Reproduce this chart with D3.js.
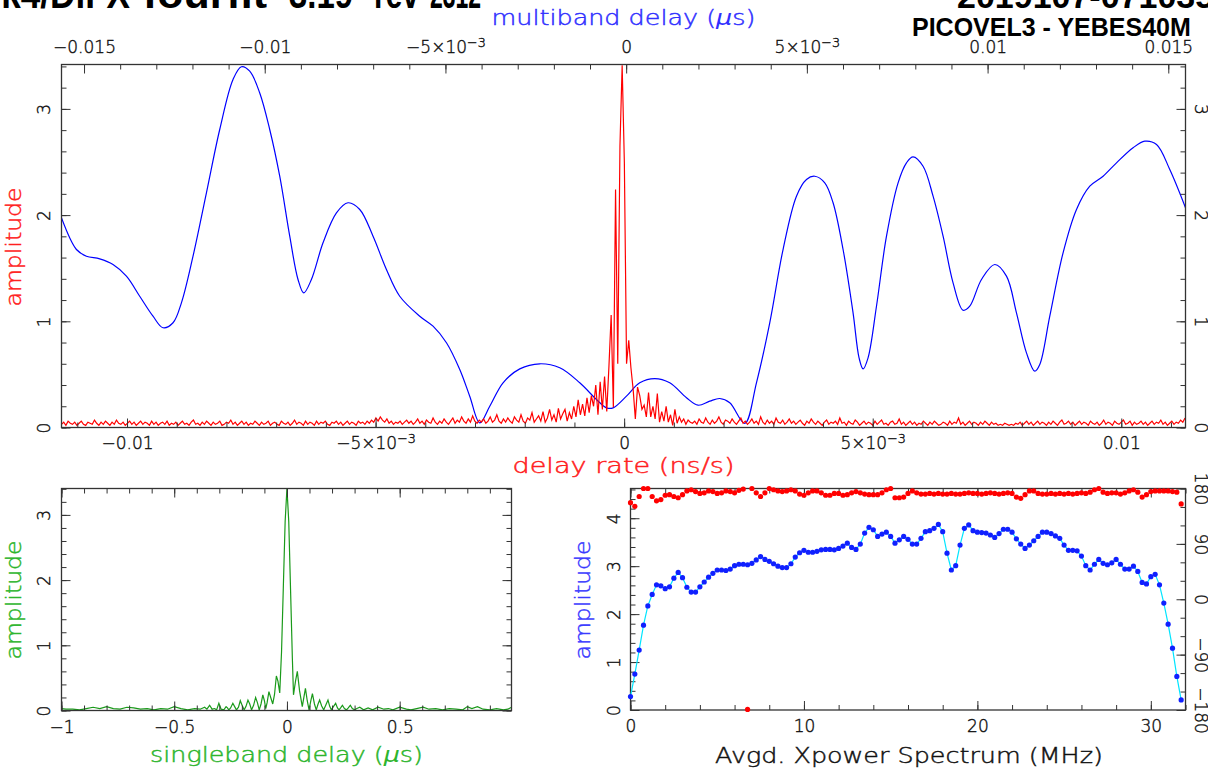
<!DOCTYPE html>
<html><head><meta charset="utf-8">
<script src="https://cdn.jsdelivr.net/npm/d3@7"></script>
<style>body{margin:0;background:#fff;overflow:hidden}svg{display:block}</style>
</head><body><svg id="c" width="1208" height="773"></svg>
<script>
// ---------- DATA ----------
const titleLeftWords = ["Mk4/DiFX", "fourfit", "3.19", "rev", "2312"];
const titleRight1 = "2019107-071035M";
const titleRight2 = "PICOVEL3 - YEBES40M";

// multiband delay (us) vs amplitude (blue)
const mbdDelay = [-0.015625,-0.01521,-0.014934,-0.014566,-0.014198,-0.013827,-0.013459,-0.013091,-0.012814,-0.012537,-0.012305,-0.011984,-0.011613,-0.011245,-0.010877,-0.010645,-0.010415,-0.010138,-0.009862,-0.009585,-0.009308,-0.009079,-0.008921,-0.008708,-0.008387,-0.008016,-0.007695,-0.007371,-0.007003,-0.006633,-0.006265,-0.005711,-0.005343,-0.004972,-0.004604,-0.004328,-0.004051,-0.003774,-0.003406,-0.002944,-0.002391,-0.001837,-0.001284,-0.000822,-0.000545,-0.000362,0.000008,0.000376,0.000791,0.001206,0.001669,0.00199,0.002313,0.00259,0.002867,0.003282,0.003605,0.003973,0.004341,0.004712,0.004989,0.005219,0.005495,0.005725,0.006002,0.006278,0.006444,0.006555,0.006693,0.006926,0.007203,0.007524,0.007756,0.007938,0.008215,0.008492,0.008769,0.009045,0.009322,0.009507,0.009831,0.010199,0.010523,0.010799,0.011076,0.011306,0.011444,0.011721,0.012089,0.01246,0.012828,0.013196,0.013567,0.014026,0.01435,0.014674,0.015041,0.015476];
const mbdAmp = [1.975,1.676,1.613,1.588,1.535,1.425,1.236,1.048,0.939,0.986,1.174,1.613,2.21,2.806,3.277,3.397,3.355,3.15,2.806,2.366,1.801,1.394,1.268,1.394,1.739,2.021,2.116,2.053,1.801,1.488,1.236,1.048,0.954,0.798,0.546,0.295,0.044,0.2,0.421,0.552,0.6,0.562,0.421,0.264,0.185,0.185,0.295,0.421,0.461,0.421,0.28,0.21,0.248,0.273,0.233,0.038,0.421,0.986,1.676,2.178,2.335,2.366,2.304,2.116,1.676,1.08,0.656,0.552,0.656,1.142,1.801,2.304,2.492,2.549,2.46,2.178,1.801,1.362,1.104,1.142,1.394,1.535,1.425,1.08,0.703,0.53,0.593,1.048,1.645,2.053,2.272,2.366,2.492,2.634,2.696,2.665,2.429,2.069];

// delay rate (ns/s) grid and amplitude (red)
const drStart = -0.011318, drStep = 4.4227e-5;
const drAmp = [
0.03,0.05,0.02,0.06,0.04,0.03,0.05,0.02,0.04,0.06,0.03,0.02,0.05,0.04,0.03,0.07,
0.04,0.02,0.05,0.03,0.06,0.04,0.02,0.05,0.03,0.07,0.04,0.03,0.05,0.02,0.04,0.06,
0.03,0.05,0.02,0.04,0.06,0.03,0.05,0.04,0.02,0.06,0.03,0.05,0.02,0.04,0.05,0.03,
0.06,0.02,0.04,0.03,0.05,0.02,0.04,0.06,0.03,0.04,0.02,0.05,0.07,0.03,0.04,0.02,
0.05,0.03,0.06,0.04,0.02,0.05,0.03,0.04,0.06,0.02,0.03,0.05,0.04,0.07,0.03,0.05,
0.02,0.04,0.06,0.03,0.05,0.02,0.04,0.03,0.06,0.04,0.02,0.05,0.03,0.04,0.06,0.02,
0.04,0.05,0.03,0.02,0.06,0.04,0.03,0.05,0.02,0.04,0.07,0.03,0.05,0.04,0.02,0.06,
0.03,0.05,0.04,0.02,0.06,0.03,0.05,0.04,0.06,0.03,0.02,0.05,0.04,0.06,0.03,0.05,
0.02,0.04,0.06,0.03,0.05,0.04,0.02,0.06,0.04,0.05,0.03,0.06,0.04,0.07,0.05,0.09,
0.06,0.10,0.07,0.05,0.08,0.04,0.06,0.03,0.05,0.04,0.06,0.03,0.05,0.07,0.04,0.06,
0.03,0.05,0.08,0.04,0.06,0.03,0.07,0.05,0.04,0.09,0.05,0.03,0.06,0.04,0.08,0.05,
0.03,0.06,0.09,0.04,0.07,0.05,0.10,0.06,0.04,0.08,0.05,0.11,0.06,0.04,0.07,0.05,
0.08,0.04,0.06,0.10,0.05,0.07,0.12,0.06,0.04,0.08,0.05,0.09,0.06,0.04,0.10,0.07,
0.05,0.12,0.06,0.04,0.09,0.07,0.14,0.05,0.08,0.11,0.06,0.15,0.05,0.09,0.17,0.07,
0.12,0.05,0.18,0.08,0.13,0.17,0.06,0.14,0.08,0.20,0.10,0.26,0.12,0.22,0.11,0.28,
0.14,0.30,0.20,0.40,0.12,0.43,0.17,0.48,0.15,0.58,1.06,0.19,2.24,0.60,2.65,3.41,
2.50,0.60,0.82,0.56,0.36,0.08,0.38,0.30,0.17,0.21,0.10,0.33,0.10,0.20,0.08,0.32,
0.05,0.15,0.06,0.20,0.05,0.12,0.02,0.17,0.04,0.10,0.05,0.08,0.03,0.07,0.05,0.04,
0.06,0.03,0.08,0.05,0.04,0.09,0.05,0.03,0.07,0.04,0.06,0.10,0.05,0.03,0.07,0.06,
0.04,0.08,0.05,0.03,0.06,0.09,0.04,0.06,0.03,0.05,0.08,0.04,0.06,0.03,0.10,0.05,
0.03,0.07,0.04,0.06,0.03,0.09,0.05,0.04,0.07,0.03,0.05,0.08,0.04,0.06,0.03,0.05,
0.07,0.04,0.02,0.06,0.04,0.08,0.05,0.03,0.06,0.04,0.02,0.05,0.07,0.03,0.05,0.04,
0.06,0.03,0.09,0.04,0.05,0.02,0.06,0.04,0.03,0.07,0.05,0.02,0.04,0.06,0.03,0.05,
0.04,0.02,0.06,0.03,0.05,0.07,0.03,0.04,0.02,0.05,0.06,0.03,0.04,0.08,0.03,0.05,
0.02,0.04,0.06,0.03,0.05,0.02,0.04,0.03,0.06,0.04,0.02,0.05,0.03,0.06,0.04,0.02,
0.03,0.05,0.04,0.02,0.06,0.03,0.05,0.04,0.09,0.03,0.05,0.02,0.04,0.06,0.03,0.05,
0.04,0.02,0.05,0.03,0.06,0.04,0.02,0.05,0.03,0.04,0.02,0.03,0.02,0.04,0.03,0.02,
0.03,0.02,0.04,0.03,0.05,0.02,0.04,0.06,0.03,0.05,0.02,0.04,0.06,0.03,0.05,0.04,
0.02,0.05,0.03,0.06,0.04,0.02,0.05,0.07,0.03,0.04,0.06,0.03,0.05,0.02,0.04,0.06,
0.03,0.05,0.04,0.02,0.06,0.04,0.03,0.05,0.02,0.04,0.07,0.03,0.05,0.04,0.02,0.06,
0.04,0.03,0.05,0.07,0.03,0.04,0.06,0.02,0.05,0.03,0.04,0.06,0.03,0.05,0.02,0.04,
0.06,0.03,0.05,0.04,0.07,0.03,0.05,0.02,0.04,0.06,0.03,0.05,0.04,0.07,0.05,0.09];

// singleband delay (us) vs amplitude (green)
const sbdDelay = [-1,-0.98,-0.95,-0.92,-0.89,-0.86,-0.83,-0.8,-0.77,-0.74,-0.71,-0.68,-0.65,-0.62,-0.59,-0.56,-0.53,-0.5,-0.47,-0.44,-0.41,-0.385,-0.365,-0.355,-0.343,-0.332,-0.321,-0.312,-0.302,-0.292,-0.28,-0.27,-0.264,-0.258,-0.25,-0.24,-0.232,-0.224,-0.215,-0.207,-0.199,-0.19,-0.182,-0.173,-0.165,-0.157,-0.148,-0.139,-0.131,-0.123,-0.115,-0.107,-0.1,-0.094,-0.088,-0.08,-0.072,-0.063,-0.055,-0.047,-0.04,-0.032,-0.024,-0.016,-0.008,0,0.008,0.016,0.024,0.029,0.038,0.046,0.056,0.068,0.075,0.082,0.09,0.098,0.106,0.113,0.122,0.13,0.138,0.145,0.154,0.163,0.172,0.182,0.19,0.197,0.206,0.216,0.224,0.231,0.238,0.246,0.255,0.264,0.272,0.281,0.29,0.3,0.31,0.323,0.34,0.36,0.38,0.404,0.43,0.45,0.47,0.5,0.53,0.55,0.575,0.604,0.63,0.66,0.69,0.72,0.75,0.78,0.8,0.82,0.845,0.87,0.9,0.93,0.96,0.98,0.996];
const sbdAmp = [0.03,0.02,0.02,0.01,0.03,0.05,0.03,0.06,0.03,0.02,0.05,0.04,0.02,0.03,0.01,0.03,0.02,0.06,0.03,0.01,0.03,0.02,0.05,0.02,0.08,0.02,0.03,0.01,0.11,0.02,0.01,0.06,0.04,0.01,0.04,0.11,0.06,0.01,0.05,0.15,0.08,0.01,0.06,0.16,0.1,0.01,0.08,0.2,0.12,0.01,0.1,0.24,0.15,0.03,0.12,0.29,0.2,0.1,0.25,0.53,0.45,0.27,0.9,1.9,2.9,3.41,2.9,1.85,0.8,0.24,0.45,0.6,0.3,0.06,0.2,0.34,0.15,0.01,0.15,0.26,0.1,0.01,0.1,0.16,0.07,0.01,0.08,0.16,0.06,0.01,0.06,0.11,0.04,0.01,0.04,0.08,0.03,0.01,0.04,0.08,0.03,0.01,0.03,0.05,0.01,0.04,0.01,0.05,0.02,0.03,0.01,0.05,0.02,0.01,0.03,0.05,0.02,0.03,0.01,0.03,0.02,0.01,0.06,0.03,0.06,0.02,0.01,0.03,0.01,0.02,0.05];

// cross-power spectrum, 0.25 MHz channels
const specStep = 0.25;
const specAmp = [0.28,0.75,1.25,1.77,2.17,2.41,2.61,2.59,2.53,2.57,2.75,2.87,2.76,2.56,2.46,2.46,
2.57,2.67,2.77,2.85,2.92,2.92,2.91,2.94,3.01,3.04,3.04,3.03,3.06,3.13,3.2,3.14,
3.1,3.05,3.0,2.97,2.97,3.05,3.19,3.28,3.33,3.29,3.29,3.31,3.34,3.35,3.35,3.34,
3.37,3.42,3.48,3.39,3.35,3.46,3.69,3.81,3.76,3.62,3.67,3.71,3.62,3.48,3.55,3.62,
3.56,3.46,3.46,3.58,3.72,3.74,3.79,3.87,3.72,3.27,2.92,3.01,3.44,3.79,3.86,3.74,
3.71,3.7,3.69,3.65,3.6,3.68,3.77,3.77,3.71,3.57,3.46,3.37,3.44,3.53,3.62,3.71,
3.71,3.68,3.63,3.58,3.44,3.33,3.33,3.32,3.21,3.01,2.92,3.04,3.14,3.06,3.03,3.07,
3.14,3.04,2.94,2.94,3.0,2.89,2.66,2.63,2.78,2.83,2.61,2.23,1.79,1.29,0.7,0.21];
const specPhase = [157,151,167,180,180,167,160,162,169,170,167,165,170,176,178,175,
172,173,176,175,172,173,176,175,173,177,179,-179,180,173,167,173,
180,178,176,175,176,178,176,171,169,173,176,176,173,169,169,172,
172,169,170,173,175,173,171,170,170,170,173,178,180,165,165,166,
172,176,173,171,171,172,171,172,171,171,172,171,171,172,173,172,
172,171,172,173,172,171,172,173,172,166,164,170,176,176,172,171,
171,172,171,172,171,172,171,172,173,172,174,178,180,174,172,173,
173,171,173,176,178,174,166,170,175,176,176,176,176,175,174,155];

// tick values
const mbdTicks = [-0.015,-0.01,-0.005,0,0.005,0.01,0.015];
const drTicks = [-0.01,-0.005,0,0.005,0.01];
const ampTicks = [0,1,2,3];
const sbdTicks = [-1,-0.5,0,0.5];
const freqTicks = [0,10,20,30];
const specAmpTicks = [0,1,2,3,4];
const phaseTicks = [-180,-90,0,90,180];

// ---------- DRAWING ----------
const svg = d3.select("#c");
const FONT = '"DejaVu Sans", sans-serif';
const WT = 300;
const INK = "#111";
const FR = "#333";
const BLUE = "#0000ff", RED = "#ff0000", GREEN = "#1a9a1a";

const defs = svg.append("defs");
function clip(id, x0, y0, x1, y1) {
  defs.append("clipPath").attr("id", id).append("rect")
    .attr("x", x0).attr("y", y0).attr("width", x1 - x0).attr("height", y1 - y0);
  return "url(#" + id + ")";
}
function range(a, b, s) { const r = []; for (let v = a; v <= b + s * 1e-6; v += s) r.push(+v.toFixed(6)); return r; }

function fmtSci(d) {
  const a = Math.abs(d), neg = d < 0 ? "\u2212" : "";
  if (Math.abs(a - 0.005) < 1e-9) return [neg + "5\u00d710", "\u22123"];
  return [neg + String(a), null];
}
function writeLabel(sel, parts) {
  sel.text(null);
  sel.append("tspan").text(parts[0]);
  if (parts[1]) sel.append("tspan").attr("dy", "-0.45em").attr("font-size", "0.75em").text(parts[1]);
}

// axis helper: ticks inward
function axis(orient, scale, pos, majors, minors, fmt, pad, rot) {
  const mk = { bottom: d3.axisBottom, top: d3.axisTop, left: d3.axisLeft, right: d3.axisRight }[orient];
  const tr = (orient === "bottom" || orient === "top") ? `translate(0,${pos})` : `translate(${pos},0)`;
  svg.append("g").attr("transform", tr)
    .call(mk(scale).tickValues(minors).tickSize(-5).tickFormat(""))
    .call(g => g.select(".domain").remove())
    .attr("color", FR);
  const g = svg.append("g").attr("transform", tr)
    .call(mk(scale).tickValues(majors).tickSize(-9).tickPadding(pad).tickFormat(d => ""))
    .call(g => g.select(".domain").remove())
    .attr("color", FR).attr("font-family", FONT).attr("font-weight", WT).attr("font-size", 17);
  if (!fmt) { g.selectAll(".tick text").remove(); return g; }
  g.selectAll(".tick text").attr("fill", INK).attr("stroke", INK).attr("stroke-width", 0.4)
    .each(function (d) { writeLabel(d3.select(this), fmt(d)); });
  if (rot === "left") g.selectAll(".tick text").attr("transform", "rotate(-90)").attr("x", 0).attr("y", -pad).attr("dy", 0).attr("text-anchor", "middle");
  if (rot === "right") g.selectAll(".tick text").attr("transform", "rotate(90)").attr("x", 0).attr("y", -pad).attr("dy", 0).attr("text-anchor", "middle");
  return g;
}
function frame(x0, y0, x1, y1) {
  svg.append("rect").attr("x", x0).attr("y", y0).attr("width", x1 - x0).attr("height", y1 - y0)
    .attr("fill", "none").attr("stroke", FR).attr("stroke-width", 1.3);
}
function label(txt, x, y, color, len, rotate, italicMu) {
  const t = svg.append("text").attr("font-family", FONT).attr("font-weight", WT).attr("font-size", 21)
    .attr("fill", color).attr("stroke", color).attr("stroke-width", 0.45)
    .attr("text-anchor", "middle")
    .attr("transform", `translate(${x},${y})` + (rotate ? " rotate(-90)" : ""));
  if (italicMu) {
    const i = txt.indexOf("\u03bc");
    t.append("tspan").text(txt.slice(0, i));
    t.append("tspan").attr("font-style", "italic").attr("stroke", "none").text("\u03bc");
    t.append("tspan").text(txt.slice(i + 1));
  } else t.text(txt);
  if (len) t.attr("textLength", len).attr("lengthAdjust", "spacingAndGlyphs");
  return t;
}

// ===== Main panel =====
const M = { x0: 61.5, x1: 1185.5, y0: 64.5, y1: 427.5 };
const xMbd = d3.scaleLinear().domain([-0.015623, 0.015476]).range([M.x0, M.x1]);
const xDr = d3.scaleLinear().domain([-0.011318, 0.011292]).range([M.x0, M.x1]);
const yMain = d3.scaleLinear().domain([0, 3.418]).range([M.y1, M.y0]);
const cMain = clip("cm", M.x0, M.y0, M.x1, M.y1);

svg.append("path").attr("clip-path", cMain)
  .attr("d", d3.line().x((d, i) => xMbd(mbdDelay[i])).y(d => yMain(d)).curve(d3.curveCatmullRom.alpha(0.5))(mbdAmp))
  .attr("fill", "none").attr("stroke", BLUE).attr("stroke-width", 1.2);
svg.append("path").attr("clip-path", cMain)
  .attr("d", d3.line().x((d, i) => xDr(drStart + i * drStep)).y(d => yMain(d))(drAmp))
  .attr("fill", "none").attr("stroke", RED).attr("stroke-width", 1.2);

axis("top", xMbd, M.y0, mbdTicks, range(-0.015, 0.015, 0.001), fmtSci, 12);
axis("bottom", xDr, M.y1, drTicks, range(-0.011, 0.011, 0.001), fmtSci, 9);
axis("left", yMain, M.x0, ampTicks, range(0, 3.4, 0.2), d => [String(d), null], 12, "left");
axis("right", yMain, M.x1, ampTicks, range(0, 3.4, 0.2), d => [String(d), null], 9, "right");
frame(M.x0, M.y0, M.x1, M.y1);

label("multiband delay (\u03bcs)", 623.5, 25, "#3030ff", 264, false, true);
label("delay rate (ns/s)", 623.5, 473, "#ff2020", 222);
label("amplitude", 21, 247, "#ff2020", 119, true);

// ===== Singleband panel =====
const S = { x0: 61.5, x1: 511.5, y0: 488.5, y1: 710.5 };
const xS = d3.scaleLinear().domain([-1, 0.996]).range([S.x0, S.x1]);
const yS = d3.scaleLinear().domain([0, 3.405]).range([S.y1, S.y0]);
const cS = clip("cs", S.x0, S.y0, S.x1, S.y1);
svg.append("path").attr("clip-path", cS)
  .attr("d", d3.line().x((d, i) => xS(sbdDelay[i])).y(d => yS(d))(sbdAmp))
  .attr("fill", "none").attr("stroke", GREEN).attr("stroke-width", 1.2);
const sbdFmt = d => [(d < 0 ? "\u2212" : "") + Math.abs(d), null];
axis("bottom", xS, S.y1, sbdTicks, range(-1, 0.9, 0.1), sbdFmt, 10);
axis("top", xS, S.y0, sbdTicks, range(-1, 0.9, 0.1), null, 0);
axis("left", yS, S.x0, ampTicks, range(0, 3.4, 0.2), d => [String(d), null], 12, "left");
axis("right", yS, S.x1, ampTicks, range(0, 3.4, 0.2), null, 0);
frame(S.x0, S.y0, S.x1, S.y1);
label("singleband delay (\u03bcs)", 286.5, 762, "#2db52d", 273, false, true);
label("amplitude", 21, 600, "#2db52d", 119, true);

// ===== Spectrum panel =====
const P = { x0: 630.5, x1: 1185.5, y0: 488.5, y1: 710 };
const xF = d3.scaleLinear().domain([0, 32]).range([P.x0, P.x1]);
const yA = d3.scaleLinear().domain([0, 4.62]).range([P.y1, P.y0]);
const yP = d3.scaleLinear().domain([-180, 180]).range([P.y1, P.y0]);
const fr = (d, i) => xF(i * specStep);

axis("bottom", xF, P.y1, freqTicks, range(0, 32, 2), d => [String(d), null], 10);
axis("top", xF, P.y0, freqTicks, range(0, 32, 2), null, 0);
axis("left", yA, P.x0, specAmpTicks, range(0, 4.6, 0.2), d => [String(d), null], 11, "left");
axis("right", yP, P.x1, phaseTicks, range(-180, 180, 30), d => [(d < 0 ? "\u2212" : "") + Math.abs(d), null], 9, "right");
frame(P.x0, P.y0, P.x1, P.y1);

svg.append("path").attr("d", d3.line().x(fr).y(d => yA(d))(specAmp))
  .attr("fill", "none").attr("stroke", "#00e5ff").attr("stroke-width", 1.2);
svg.append("g").selectAll("circle").data(specAmp).join("circle")
  .attr("cx", fr).attr("cy", d => yA(d)).attr("r", 2.6).attr("fill", "#1020ff");
svg.append("g").selectAll("circle").data(specPhase).join("circle")
  .attr("cx", fr).attr("cy", d => yP(d)).attr("r", 2.6).attr("fill", RED);

label("Avgd. Xpower Spectrum (MHz)", 909, 763, INK, 388);
label("amplitude", 590, 600, "#3a3aff", 119, true);

// ===== Titles (clipped by the page edge, as in the reference) =====
const TF = '"Liberation Sans", Arial, sans-serif';
const wordSpan = [[-28, 130], [143, 267], [289, 353], [374, 419], [430, 481]];
const tl = svg.append("text").attr("y", 8).attr("font-family", TF).attr("font-weight", "bold")
  .attr("font-size", 40).attr("fill", "#000");
titleLeftWords.forEach((w, i) => {
  tl.append("tspan").attr("x", wordSpan[i][0]).attr("textLength", wordSpan[i][1] - wordSpan[i][0])
    .attr("lengthAdjust", "spacingAndGlyphs").text(w);
});
svg.append("text").attr("x", 957).attr("y", 8)
  .attr("font-family", TF).attr("font-weight", "bold")
  .attr("font-size", 34).attr("fill", "#000").text(titleRight1);
svg.append("text").attr("x", 912).attr("y", 35.5)
  .attr("font-family", TF).attr("font-weight", "bold")
  .attr("font-size", 25).attr("fill", "#000").text(titleRight2);
</script></body></html>
